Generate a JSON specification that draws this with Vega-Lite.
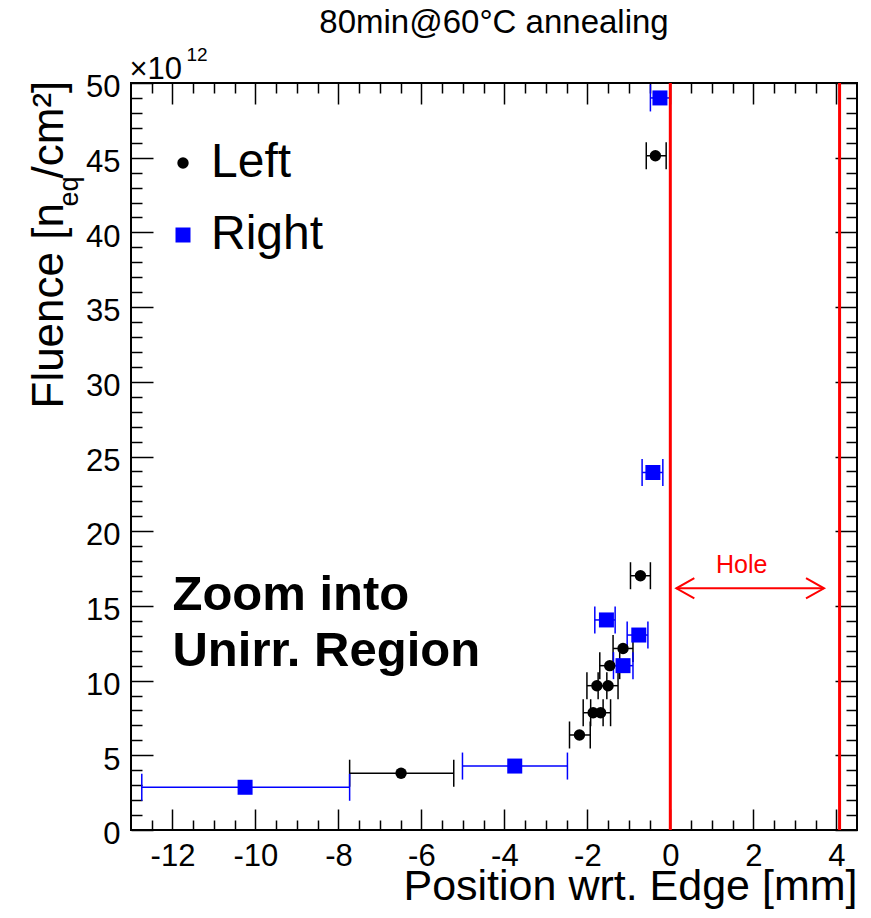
{
  "$schema": "https://vega.github.io/schema/vega-lite/v6.json",
  "width": 726,
  "height": 747,
  "autosize": {"type": "none"},
  "padding": {"left": 131, "top": 83, "right": 14, "bottom": 88},
  "background": "white",
  "title": {
    "text": "80min@60°C annealing",
    "fontSize": 33,
    "fontWeight": "normal",
    "font": "Liberation Sans",
    "color": "#000000",
    "anchor": "middle",
    "frame": "group",
    "baseline": "alphabetic",
    "offset": 8,
    "dy": 29
  },
  "config": {
    "font": "Liberation Sans",
    "view": {"stroke": "#000000", "strokeWidth": 2},
    "axis": {
      "grid": false,
      "domain": false,
      "tickColor": "#000000",
      "tickWidth": 1.5,
      "labelColor": "#000000",
      "titleColor": "#000000",
      "labelFont": "Liberation Sans",
      "titleFont": "Liberation Sans",
      "titleFontWeight": "normal",
      "labelOverlap": false,
      "labelFlush": false
    }
  },
  "datasets": {
    "fluence": [
      {"side": "Left", "pos": -6.49, "lo": -7.73, "hi": -5.22, "fluence": 3.8},
      {"side": "Left", "pos": -2.19, "lo": -2.43, "hi": -1.93, "fluence": 6.36},
      {"side": "Left", "pos": -1.86, "lo": -2.1, "hi": -1.62, "fluence": 7.85},
      {"side": "Left", "pos": -1.68, "lo": -1.92, "hi": -1.44, "fluence": 7.85},
      {"side": "Left", "pos": -1.77, "lo": -2.01, "hi": -1.53, "fluence": 9.66},
      {"side": "Left", "pos": -1.5, "lo": -1.74, "hi": -1.26, "fluence": 9.66},
      {"side": "Left", "pos": -1.46, "lo": -1.7, "hi": -1.22, "fluence": 11.0},
      {"side": "Left", "pos": -1.14, "lo": -1.38, "hi": -0.9, "fluence": 12.15},
      {"side": "Left", "pos": -0.72, "lo": -0.96, "hi": -0.48, "fluence": 17.02},
      {"side": "Left", "pos": -0.36, "lo": -0.58, "hi": -0.1, "fluence": 45.13},
      {"side": "Right", "pos": -10.25, "lo": -12.74, "hi": -7.73, "fluence": 2.86},
      {"side": "Right", "pos": -3.75, "lo": -5.01, "hi": -2.48, "fluence": 4.28},
      {"side": "Right", "pos": -1.54, "lo": -1.82, "hi": -1.33, "fluence": 14.06},
      {"side": "Right", "pos": -0.76, "lo": -1.04, "hi": -0.54, "fluence": 13.05},
      {"side": "Right", "pos": -1.14, "lo": -1.37, "hi": -0.9, "fluence": 11.0},
      {"side": "Right", "pos": -0.42, "lo": -0.68, "hi": -0.18, "fluence": 23.93},
      {"side": "Right", "pos": -0.25, "lo": -0.48, "hi": 0.0, "fluence": 49.0}
    ],
    "edges": [{"edge": 0.0}, {"edge": 4.08}],
    "hole": [{"from": 0.145, "to": 3.705, "y": 16.18, "label": "Hole", "labelX": 1.72, "labelY": 17.22}],
    "note": [{"label": "Zoom into\nUnirr. Region", "x": -12.0, "y": 14.73}]
  },
  "resolve": {"axis": {"x": "independent", "y": "independent"}},
  "layer": [
    {
      "data": {"name": "fluence"},
      "transform": [{"filter": "datum.side === 'Left'"}],
      "mark": {"type": "rule", "strokeWidth": 1.5, "color": "#000000"},
      "encoding": {
        "x": {
          "field": "lo", "type": "quantitative",
          "scale": {"domain": [-13, 4.5], "nice": false, "zero": false},
          "axis": {
            "orient": "bottom",
            "values": [-12, -10, -8, -6, -4, -2, 0, 2, 4],
            "ticks": false,
            "labelFontSize": 31,
            "labelBaseline": "alphabetic",
            "labelPadding": 35,
            "labelExpr": "'' + datum.value",
            "title": "Position wrt. Edge [mm]",
            "titleFontSize": 43,
            "titleX": 726,
            "titleY": 69,
            "titleAlign": "right",
            "titleBaseline": "alphabetic"
          }
        },
        "x2": {"field": "hi"},
        "y": {
          "field": "fluence", "type": "quantitative",
          "scale": {"domain": [0, 50], "nice": false, "zero": false},
          "axis": {
            "orient": "left",
            "values": [0, 5, 10, 15, 20, 25, 30, 35, 40, 45, 50],
            "ticks": false,
            "labelFontSize": 31,
            "labelBaseline": "alphabetic",
            "labelPadding": 11,
            "labelOffset": 13.7,
            "labelExpr": "'' + datum.value",
            "title": "Fluence [n",
            "titleFontSize": 44,
            "titleAngle": 270,
            "titleX": -69,
            "titleY": 325,
            "titleAlign": "left",
            "titleBaseline": "alphabetic"
          }
        }
      }
    },
    {
      "data": {"name": "fluence"},
      "transform": [{"filter": "datum.side === 'Right'"}],
      "mark": {"type": "rule", "strokeWidth": 1.5, "color": "#0000ff"},
      "encoding": {
        "x": {"field": "lo", "type": "quantitative", "scale": {"domain": [-13, 4.5], "nice": false, "zero": false}, "axis": null},
        "x2": {"field": "hi"},
        "y": {"field": "fluence", "type": "quantitative", "scale": {"domain": [0, 50], "nice": false, "zero": false}, "axis": null}
      }
    },
    {
      "data": {"name": "fluence"},
      "transform": [{"filter": "datum.side === 'Left'"}, {"fold": ["lo", "hi"], "as": ["end", "xe"]}],
      "mark": {"type": "tick", "orient": "vertical", "size": 27, "thickness": 1.5, "opacity": 1, "color": "#000000"},
      "encoding": {
        "x": {
          "field": "xe", "type": "quantitative",
          "scale": {"domain": [-13, 4.5], "nice": false, "zero": false},
          "axis": {
            "orient": "bottom",
            "values": [-12, -10, -8, -6, -4, -2, 0, 2, 4],
            "labels": false,
            "tickSize": -21,
            "title": null
          }
        },
        "y": {
          "field": "fluence", "type": "quantitative",
          "scale": {"domain": [0, 50], "nice": false, "zero": false},
          "axis": {
            "orient": "left",
            "values": [0, 5, 10, 15, 20, 25, 30, 35, 40, 45, 50],
            "labels": false,
            "tickSize": -22,
            "title": "eq",
            "titleFontSize": 27,
            "titleAngle": 270,
            "titleX": -54,
            "titleY": 123,
            "titleAlign": "left",
            "titleBaseline": "alphabetic"
          }
        }
      }
    },
    {
      "data": {"name": "fluence"},
      "transform": [{"filter": "datum.side === 'Right'"}, {"fold": ["lo", "hi"], "as": ["end", "xe"]}],
      "mark": {"type": "tick", "orient": "vertical", "size": 27, "thickness": 1.5, "opacity": 1, "color": "#0000ff"},
      "encoding": {
        "x": {"field": "xe", "type": "quantitative", "scale": {"domain": [-13, 4.5], "nice": false, "zero": false}, "axis": null},
        "y": {"field": "fluence", "type": "quantitative", "scale": {"domain": [0, 50], "nice": false, "zero": false}, "axis": null}
      }
    },
    {
      "data": {"name": "fluence"},
      "mark": {"type": "point", "filled": true, "opacity": 1, "strokeWidth": 0},
      "encoding": {
        "x": {
          "field": "pos", "type": "quantitative",
          "scale": {"domain": [-13, 4.5], "nice": false, "zero": false},
          "axis": {
            "orient": "bottom",
            "values": [-12.5, -11.5, -11, -10.5, -9.5, -9, -8.5, -7.5, -7, -6.5, -5.5, -5, -4.5, -3.5, -3, -2.5, -1.5, -1, -0.5, 0.5, 1, 1.5, 2.5, 3, 3.5],
            "labels": false,
            "tickSize": -10,
            "title": null
          }
        },
        "y": {
          "field": "fluence", "type": "quantitative",
          "scale": {"domain": [0, 50], "nice": false, "zero": false},
          "axis": {
            "orient": "left",
            "values": [1, 2, 3, 4, 6, 7, 8, 9, 11, 12, 13, 14, 16, 17, 18, 19, 21, 22, 23, 24, 26, 27, 28, 29, 31, 32, 33, 34, 36, 37, 38, 39, 41, 42, 43, 44, 46, 47, 48, 49],
            "labels": false,
            "tickSize": -11,
            "title": "/cm²]",
            "titleFontSize": 44,
            "titleAngle": 270,
            "titleX": -69,
            "titleY": 95,
            "titleAlign": "left",
            "titleBaseline": "alphabetic"
          }
        },
        "color": {
          "field": "side", "type": "nominal",
          "scale": {"domain": ["Left", "Right"], "range": ["#000000", "#0000ff"]},
          "legend": {"orient": "none", "legendX": 28, "legendY": 56, "title": null, "labelFontSize": 48, "labelFont": "Liberation Sans", "labelColor": "#000000", "labelOffset": 4, "rowPadding": 24, "symbolStrokeWidth": 0, "symbolOpacity": 1}
        },
        "shape": {
          "field": "side", "type": "nominal",
          "scale": {"domain": ["Left", "Right"], "range": ["circle", "square"]},
          "legend": {"orient": "none", "legendX": 28, "legendY": 56, "title": null, "labelFontSize": 48, "labelFont": "Liberation Sans", "labelColor": "#000000", "labelOffset": 4, "rowPadding": 24, "symbolStrokeWidth": 0, "symbolOpacity": 1}
        },
        "size": {
          "field": "side", "type": "nominal",
          "scale": {"domain": ["Left", "Right"], "range": [130, 225]},
          "legend": {"orient": "none", "legendX": 28, "legendY": 56, "title": null, "labelFontSize": 48, "labelFont": "Liberation Sans", "labelColor": "#000000", "labelOffset": 4, "rowPadding": 24, "symbolStrokeWidth": 0, "symbolOpacity": 1}
        }
      }
    },
    {
      "data": {"name": "edges"},
      "mark": {"type": "rule", "color": "#ff0000", "strokeWidth": 3},
      "encoding": {
        "x": {
          "field": "edge", "type": "quantitative",
          "scale": {"domain": [-13, 4.5], "nice": false, "zero": false},
          "axis": null
        }
      }
    },
    {
      "data": {"name": "hole"},
      "mark": {"type": "rule", "color": "#ff0000", "strokeWidth": 2},
      "encoding": {
        "x": {
          "field": "from", "type": "quantitative",
          "scale": {"domain": [-13, 4.5], "nice": false, "zero": false},
          "axis": {
            "orient": "top",
            "values": [-12, -10, -8, -6, -4, -2, 0, 2, 4],
            "labels": false,
            "tickSize": -21,
            "title": "×10",
            "titleFontSize": 31,
            "titleX": -2,
            "titleY": -4.7,
            "titleAlign": "left",
            "titleBaseline": "alphabetic"
          }
        },
        "x2": {"field": "to"},
        "y": {
          "field": "y", "type": "quantitative",
          "scale": {"domain": [0, 50], "nice": false, "zero": false},
          "axis": {
            "orient": "right",
            "values": [0, 5, 10, 15, 20, 25, 30, 35, 40, 45, 50],
            "labels": false,
            "tickSize": -22,
            "title": null
          }
        }
      }
    },
    {
      "data": {"name": "hole"},
      "mark": {"type": "point", "shape": "M1,-0.56L0,0L1,0.56", "filled": false, "stroke": "#ff0000", "strokeWidth": 2, "size": 1296, "opacity": 1},
      "encoding": {
        "x": {"field": "from", "type": "quantitative", "scale": {"domain": [-13, 4.5], "nice": false, "zero": false}, "axis": null},
        "y": {"field": "y", "type": "quantitative", "scale": {"domain": [0, 50], "nice": false, "zero": false}, "axis": null}
      }
    },
    {
      "data": {"name": "hole"},
      "mark": {"type": "point", "shape": "M-1,-0.56L0,0L-1,0.56", "filled": false, "stroke": "#ff0000", "strokeWidth": 2, "size": 1296, "opacity": 1},
      "encoding": {
        "x": {"field": "to", "type": "quantitative", "scale": {"domain": [-13, 4.5], "nice": false, "zero": false}, "axis": null},
        "y": {"field": "y", "type": "quantitative", "scale": {"domain": [0, 50], "nice": false, "zero": false}, "axis": null}
      }
    },
    {
      "data": {"name": "hole"},
      "mark": {"type": "text", "align": "center", "baseline": "alphabetic", "fontSize": 25, "font": "Liberation Sans", "color": "#ff0000"},
      "encoding": {
        "x": {
          "field": "labelX", "type": "quantitative",
          "scale": {"domain": [-13, 4.5], "nice": false, "zero": false},
          "axis": {
            "orient": "top",
            "values": [-12.5, -11.5, -11, -10.5, -9.5, -9, -8.5, -7.5, -7, -6.5, -5.5, -5, -4.5, -3.5, -3, -2.5, -1.5, -1, -0.5, 0.5, 1, 1.5, 2.5, 3, 3.5],
            "labels": false,
            "tickSize": -10,
            "title": "12",
            "titleFontSize": 19,
            "titleX": 55,
            "titleY": -23,
            "titleAlign": "left",
            "titleBaseline": "alphabetic"
          }
        },
        "y": {
          "field": "labelY", "type": "quantitative",
          "scale": {"domain": [0, 50], "nice": false, "zero": false},
          "axis": {
            "orient": "right",
            "values": [1, 2, 3, 4, 6, 7, 8, 9, 11, 12, 13, 14, 16, 17, 18, 19, 21, 22, 23, 24, 26, 27, 28, 29, 31, 32, 33, 34, 36, 37, 38, 39, 41, 42, 43, 44, 46, 47, 48, 49],
            "labels": false,
            "tickSize": -11,
            "title": null
          }
        },
        "text": {"field": "label", "type": "nominal"}
      }
    },
    {
      "data": {"name": "note"},
      "mark": {"type": "text", "align": "left", "baseline": "alphabetic", "fontSize": 49, "fontWeight": "bold", "font": "Liberation Sans", "color": "#000000", "lineBreak": "\n", "lineHeight": 56},
      "encoding": {
        "x": {"field": "x", "type": "quantitative", "scale": {"domain": [-13, 4.5], "nice": false, "zero": false}, "axis": null},
        "y": {"field": "y", "type": "quantitative", "scale": {"domain": [0, 50], "nice": false, "zero": false}, "axis": null},
        "text": {"field": "label", "type": "nominal"}
      }
    }
  ]
}
